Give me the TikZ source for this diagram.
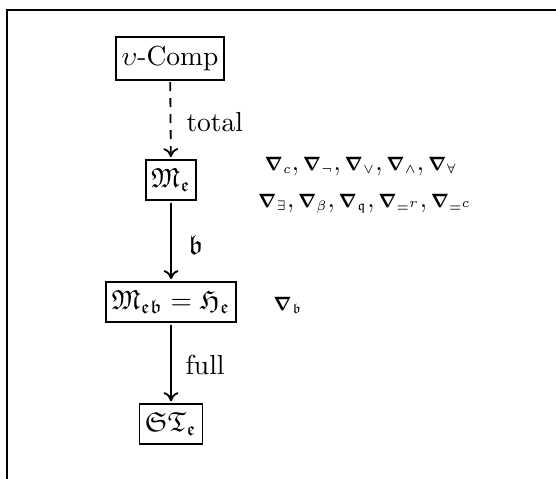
\documentclass[tikz,border=0pt]{standalone}
\usepackage{amsmath,amssymb}
\usetikzlibrary{arrows.meta}
% small heavy nabla with a tiny subscript, as used for the rule names (math mode)
\newcommand{\rulenab}[1]{{\scriptstyle\boldsymbol{\nabla}_{#1}}}
\tikzset{
  modelbox/.style={draw, line width=1.8pt, inner xsep=2pt, inner ysep=3.2pt},
  edgelabel/.style={anchor=west, inner sep=0pt},
  refine/.style={line width=1.8pt, -{To[length=9pt,width=15pt]}},
  partial/.style={refine, dash pattern=on 9pt off 7pt},
  frameline/.style={line width=1.6pt},
  rulelist/.style={inner sep=0pt, xscale=0.88},
}
\begin{document}
\begin{tikzpicture}[x=0.363636pt, y=-0.363636pt, scale=2.75, transform shape]
  \useasboundingbox (0,0) rectangle (556,479);
  % open frame: left and top edges only
  \draw[frameline] (7,479) -- (7,10) -- (556,10);

  % chain of model classes
  \node[modelbox] (vcomp) at (170,58.5) {$\upsilon$-Comp};
  \node[modelbox] (me)    at (171,180)  {$\mathfrak{M}_{\mathfrak{e}}$};
  \node[modelbox] (meb)   at (171,302)  {$\mathfrak{M}_{\mathfrak{eb}} = \mathfrak{H}_{\mathfrak{e}}$};
  \node[modelbox] (ste)   at (171,424)  {$\mathfrak{S}\mathfrak{T}_{\mathfrak{e}}$};

  \draw[partial] (vcomp) -- (me);
  \draw[refine]  (me) -- (meb);
  \draw[refine]  (meb) -- (ste);

  % labels on the refinements
  \node[edgelabel] (ltotal) at (186,122) {total};
  \node[edgelabel] (lb)     at (188,245) {$\mathfrak{b}$};
  \node[edgelabel] (lfull)  at (185,365) {full};

  % rules valid in each class
  \node[rulelist] (rules1) at (361,167)
    {$\rulenab{c}, \rulenab{\neg}, \rulenab{\vee}, \rulenab{\wedge}, \rulenab{\forall}$};
  \node[rulelist] (rules2) at (365,204)
    {$\rulenab{\exists}, \rulenab{\beta}, \rulenab{\mathfrak{q}}, \rulenab{=^{r}}, \rulenab{=^{c}}$};
  \node[rulelist, anchor=west] (rulesb) at (273,305) {$\rulenab{\mathfrak{b}}$};
\end{tikzpicture}
\end{document}
